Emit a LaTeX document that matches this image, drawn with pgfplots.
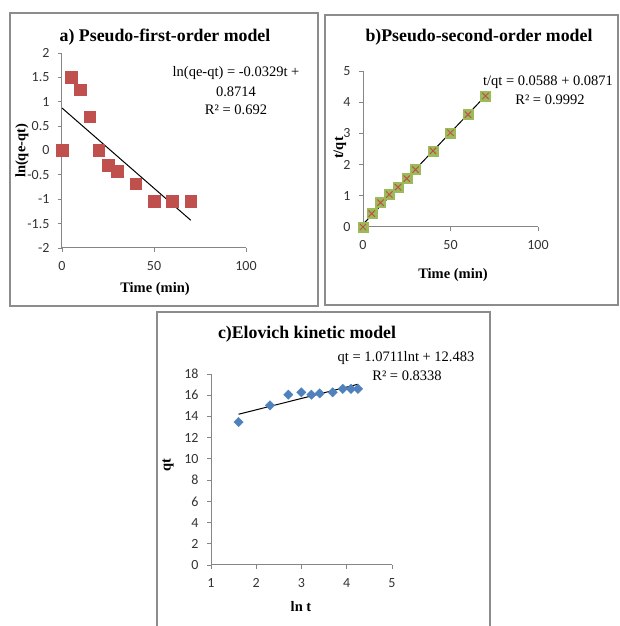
\documentclass[border=0pt]{standalone}
\usepackage{pgfplots}
\pgfplotsset{compat=1.18}
\usepackage{fontspec}
\setmainfont{Liberation Serif}
\newfontfamily\tickfont{Carlito}
\definecolor{exred}{HTML}{C0504D}
\definecolor{exblue}{HTML}{4F81BD}
\definecolor{exgreen}{HTML}{9BBB59}
\definecolor{axgray}{HTML}{868686}
\definecolor{frgray}{HTML}{8C8C8C}
\pgfplotsset{
 exstyle/.style={
  scale only axis, clip=false,
  anchor=south west,
  axis x line=bottom, axis y line=left,
  axis line style={axgray, line width=1pt, -},
  tick style={axgray, line width=0.8pt},
  major tick length=4pt,
  tick align=outside,
  /pgf/number format/assume math mode=true,
  ticklabel style={font=\tickfont\fontsize{14}{14}\selectfont, text=black!80},
  xticklabel style={yshift=-6pt},
  yticklabel style={xshift=-5pt},
 }
}
\begin{document}
\begin{tikzpicture}[x=1pt,y=1pt]
\useasboundingbox (0,0) rectangle (619,626);
% frames
\draw[frgray, line width=1.5pt] (10,613) rectangle (318,320);
\draw[frgray, line width=1.5pt] (325,611) rectangle (618,321);
\draw[frgray, line width=1.5pt] (157,314) rectangle (490,-5);

% ---------- a) ----------
\begin{axis}[exstyle, at={(62pt,378pt)}, width=184pt, height=195pt,
  xmin=0, xmax=100, ymin=-2, ymax=2,
  xtick={0,50,100}, ytick={-2,-1.5,...,2},
  yticklabels={-2,-1.5,-1,-0.5,0,0.5,1,1.5,2}]
\addplot[only marks, mark=square*, mark size=5.8pt, color=exred] coordinates {
 (0,0) (5,1.5) (10,1.25) (15,0.69) (20,0) (25,-0.3) (30,-0.42) (40,-0.68) (50,-1.04) (60,-1.04) (70,-1.04)};
\addplot[black, line width=1pt] coordinates {(0,0.8714) (70,-1.4316)};
\end{axis}
\node[font=\bfseries\fontsize{17.8}{17.8}\selectfont] at (165,589) {a) Pseudo-first-order model};
\node[font=\bfseries\fontsize{14.5}{14.5}\selectfont] at (155,337) {Time (min)};
\node[font=\bfseries\fontsize{14.5}{14.5}\selectfont, rotate=90] at (22,475) {ln(qe-qt)};
\node[font=\fontsize{14.5}{14.5}\selectfont] at (236,553) {ln(qe-qt) = -0.0329t +};
\node[font=\fontsize{14.5}{14.5}\selectfont] at (236,534) {0.8714};
\node[font=\fontsize{14.5}{14.5}\selectfont] at (236,516) {R² = 0.692};

% ---------- b) ----------
\begin{axis}[exstyle, at={(363pt,399pt)}, width=175pt, height=156pt,
  xmin=0, xmax=100, ymin=0, ymax=5,
  xtick={0,50,100}, ytick={0,1,...,5}]
\addplot[only marks, mark=square*, mark size=5pt, color=exgreen] coordinates {
 (0,0) (5,0.43) (10,0.78) (15,1.04) (20,1.28) (25,1.55) (30,1.84) (40,2.44) (50,3.02) (60,3.6) (70,4.2)};
\addplot[only marks, mark=x, mark size=4.5pt, color=exred, line width=1pt] coordinates {
 (0,0) (5,0.43) (10,0.78) (15,1.04) (20,1.28) (25,1.55) (30,1.84) (40,2.44) (50,3.02) (60,3.6) (70,4.2)};
\addplot[black, line width=1pt] coordinates {(0,0.0871) (70,4.2031)};
\end{axis}
\node[font=\bfseries\fontsize{17.8}{17.8}\selectfont] at (479,589) {b)Pseudo-second-order model};
\node[font=\bfseries\fontsize{14.5}{14.5}\selectfont] at (453,351) {Time (min)};
\node[font=\bfseries\fontsize{14.5}{14.5}\selectfont, rotate=90] at (340,478) {t/qt};
\node[font=\fontsize{14.5}{14.5}\selectfont] at (548,544) {t/qt = 0.0588 + 0.0871};
\node[font=\fontsize{14.5}{14.5}\selectfont] at (550,526) {R² = 0.9992};

% ---------- c) ----------
\begin{axis}[exstyle, at={(211pt,61pt)}, width=181pt, height=191pt,
  xmin=1, xmax=5, ymin=0, ymax=18,
  xtick={1,2,...,5}, ytick={0,2,...,18}]
\addplot[only marks, mark=square*, mark size=3.3pt, mark options={rotate=45}, color=exblue] coordinates {
 (1.609,13.47) (2.303,15.04) (2.708,16.05) (2.996,16.27) (3.219,16.05) (3.401,16.17) (3.689,16.27) (3.912,16.6) (4.094,16.6) (4.248,16.6)};
\addplot[black, line width=1pt] coordinates {(1.609,14.207) (4.248,17.033)};
\end{axis}
\node[font=\bfseries\fontsize{17.8}{17.8}\selectfont] at (307,292) {c)Elovich kinetic model};
\node[font=\bfseries\fontsize{14.5}{14.5}\selectfont] at (301,19) {ln t};
\node[font=\bfseries\fontsize{14.5}{14.5}\selectfont, rotate=90] at (168,161) {qt};
\node[font=\fontsize{14.5}{14.5}\selectfont] at (406,268) {qt = 1.0711lnt + 12.483};
\node[font=\fontsize{14.5}{14.5}\selectfont] at (407,250) {R² = 0.8338};
\end{tikzpicture}
\end{document}
